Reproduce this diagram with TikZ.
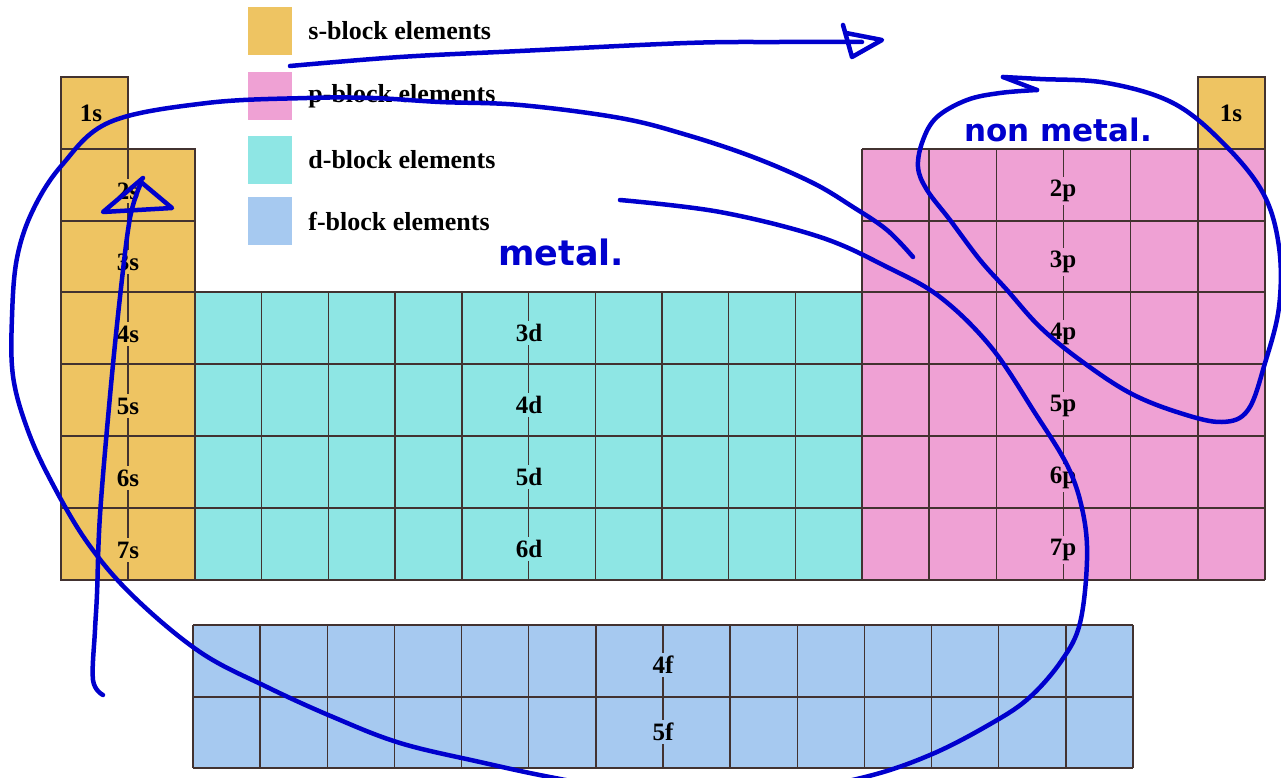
\documentclass[tikz,border=0pt]{standalone}
\usepackage{fontspec}
\setmainfont{Liberation Serif}
\newfontfamily\handfont{DejaVu Sans}
\usetikzlibrary{positioning}
\definecolor{SBlock}{RGB}{238,196,98}
\definecolor{PBlock}{RGB}{239,161,212}
\definecolor{DBlock}{RGB}{142,230,228}
\definecolor{FBlock}{RGB}{166,201,240}
\definecolor{GridLine}{RGB}{66,50,48}
\definecolor{InkBlue}{RGB}{0,0,205}

\begin{document}
\begin{tikzpicture}[x=1pt,y=-1pt,
    gridln/.style={draw=GridLine,line width=1.4pt},
    swatch/.style={minimum width=44pt,minimum height=48pt,inner sep=0pt},
    legtext/.style={font=\fontsize{26}{30}\selectfont\bfseries,inner sep=0pt},
    blklabel/.style={font=\fontsize{25}{30}\selectfont\bfseries,inner sep=3.5pt},
    ink/.style={draw=InkBlue,line width=4.5pt,line cap=round,line join=round},
    inktext/.style={text=InkBlue,font=\handfont\bfseries\fontsize{31}{36}\selectfont}]
  \useasboundingbox (0,0) rectangle (1281,778);

  % legend
  \node[swatch,fill=SBlock] (sw-s) at (270,31) {};
  \node[swatch,fill=PBlock] (sw-p) at (270,96) {};
  \node[swatch,fill=DBlock] (sw-d) at (270,160) {};
  \node[swatch,fill=FBlock] (sw-f) at (270,221) {};
  \node[legtext,right=16pt of sw-s] (lg-s) {s-block elements};
  \node[legtext,right=16pt of sw-p] (lg-p) {p-block elements};
  \node[legtext,right=16pt of sw-d] (lg-d) {d-block elements};
  \node[legtext,right=16pt of sw-f] (lg-f) {f-block elements};

  % block fills
  \fill[SBlock] (61,77) rectangle (128,149);
  \fill[SBlock] (61,149) rectangle (195,580);
  \fill[SBlock] (1198,77) rectangle (1265,149);
  \fill[PBlock] (862,149) rectangle (1265,580);
  \fill[DBlock] (195,292) rectangle (862,580);
  \fill[FBlock] (193,625) rectangle (1133,768);

  % s block
  \draw[gridln] (61,77) rectangle (128,149);
  \draw[gridln] (61,149) rectangle (195,580);
  \draw[gridln] (128,149) -- (128,580);
  \foreach \y in {221,292,364,436,508}
    \draw[gridln] (61,\y) -- (195,\y);
  \draw[gridln] (1198,77) rectangle (1265,149);

  % d block
  \foreach \y in {292,364,436,508,580}
    \draw[gridln] (195,\y) -- (862,\y);
  \foreach \i in {0,...,10}
    \draw[gridln] ({195+\i*66.7},292) -- ({195+\i*66.7},580);

  % p block
  \foreach \y in {149,221,292,364,436,508,580}
    \draw[gridln] (862,\y) -- (1265,\y);
  \foreach \i in {0,...,6}
    \draw[gridln] ({862+\i*67.17},149) -- ({862+\i*67.17},580);

  % f block
  \foreach \y in {625,697,768}
    \draw[gridln] (193,\y) -- (1133,\y);
  \foreach \i in {0,...,14}
    \draw[gridln] ({193+\i*67.14},625) -- ({193+\i*67.14},768);

  % labels
  \node[blklabel] (s1) at (91,113) {1s};
  \node[blklabel] (s1r) at (1231,113) {1s};
  \foreach \n/\y in {2/185,3/256,4/328,5/400,6/472,7/544}{
    \node[blklabel,fill=SBlock] (s\n) at (128,{\y+6}) {\n s};
    \node[blklabel,fill=PBlock] (p\n) at (1063,{\y+6}) {\n p};
  }
  \foreach \n/\y in {3/328,4/400,5/472,6/544}
    \node[blklabel,fill=DBlock] (d\n) at (529,{\y+5}) {\n d};
  \node[blklabel,fill=FBlock] (f4) at (663,665) {4f};
  \node[blklabel,fill=FBlock] (f5) at (663,732) {5f};

  % hand annotations
  \draw[ink] plot[smooth,tension=0.6] coordinates {(290,66) (400,57) (520,51)
    (687,43) (780,42) (862,42)};
  \draw[ink] (843,25) -- (852,57) -- (882,40) -- (846,33);

  \draw[ink] plot[smooth,tension=0.6] coordinates {(620,200) (720,212) (820,237)
    (887,267) (940,297) (991,347) (1035,413) (1068,467) (1083,513) (1087,560)
    (1080,623) (1062,660) (1030,697) (992,723) (930,755) (861,778) (760,796)
    (650,794) (555,778) (480,762) (400,743) (333,717) (267,687) (200,652)
    (133,596) (87,542) (50,479) (27,428) (13,376) (12,317) (17,258) (33,210)
    (62,165) (110,122) (207,103) (307,98) (373,98) (440,102) (520,105)
    (620,118) (687,135) (753,157) (813,183) (853,207) (887,230) (913,257)};

  \draw[ink] plot[smooth,tension=0.6] coordinates {(103,695) (93,680) (95,630)
    (97,594) (100,515) (110,396) (120,297) (130,218) (141,183)};
  \draw[ink] (143,178) -- (103,212) -- (172,208) -- (141,182);

  \draw[ink] plot[smooth,tension=0.6] coordinates {(1037,90) (1000,93) (967,100)
    (937,117) (923,140) (918,167) (927,190) (950,220) (980,260) (1007,290)
    (1040,327) (1080,360) (1130,393) (1180,413) (1222,422) (1248,410)
    (1265,363) (1279,307) (1279,247) (1263,193) (1223,143) (1173,103)
    (1107,83) (1040,79) (1003,77)};
  \draw[ink] (1003,77) -- (1037,90);

  \node[inktext,font=\handfont\bfseries\fontsize{35}{40}\selectfont] (metal) at (561,252) {metal.};
  \node[inktext] (nonmetal) at (1058,130) {non metal.};
\end{tikzpicture}
\end{document}
